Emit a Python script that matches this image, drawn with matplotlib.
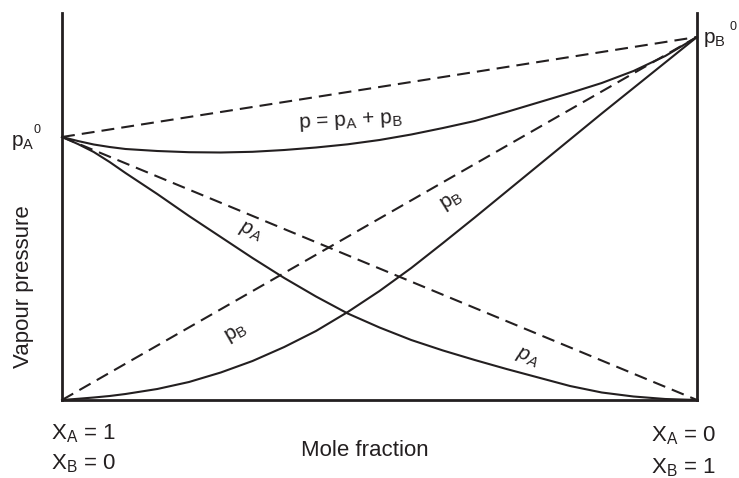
import matplotlib
matplotlib.use("Agg")
import matplotlib.pyplot as plt

plt.rcParams['font.family'] = ['Liberation Sans', 'DejaVu Sans']
plt.rcParams['mathtext.fontset'] = 'custom'
plt.rcParams['mathtext.rm'] = 'Liberation Sans'
plt.rcParams['mathtext.it'] = 'Liberation Sans:italic'

INK = '#231f20'

# pure vapour pressures (arbitrary units)
pA0 = 263
pB0 = 363

# mole fraction of B (0 at the left axis, 1 at the right axis)
x_frac = [0, 0.025, 0.05, 0.075, 0.10, 0.15, 0.20, 0.25, 0.30, 0.35, 0.40,
          0.45, 0.50, 0.55, 0.60, 0.65, 0.70, 0.75, 0.80, 0.85, 0.90, 0.95, 1.0]

# total pressure (solid, top)
p_total = [263, 259, 255.5, 253, 251, 249, 247.8, 247.5, 248.2, 250, 252.5,
           255.7, 260, 265.5, 272, 279, 288, 297.5, 307, 317, 329, 344, 363]

# partial pressure of B (solid)
p_B = [0, 1.2, 2.5, 4, 6, 11, 18, 27.5, 39, 53, 69,
       88, 109, 132, 157, 182.5, 208.5, 234.5, 260.5, 286.5, 312, 337.5, 363]

# partial pressure of A (solid)
p_A = [263, 256, 248, 238, 227, 206, 184, 163, 142, 122, 103.5,
       86.5, 72.5, 60, 49.5, 40, 31, 22.5, 14, 7.5, 3.5, 1, 0]

fig = plt.figure(figsize=(7.39, 4.78), dpi=100)
ax = fig.add_axes([62 / 739, 78 / 478, 635 / 739, 387 / 478])
ax.set_xlim(0, 1)
ax.set_ylim(0, 387)

dash = (0, (6.2, 3.4))
lw = 1.5

# ideal (Raoult) lines
ax.plot([0, 1], [pA0, pB0], color=INK, lw=lw, ls=dash, clip_on=False)
ax.plot([0, 1], [pA0, 0], color=INK, lw=lw, ls=dash, clip_on=False)
ax.plot([0, 1], [0, pB0], color=INK, lw=lw, ls=dash, clip_on=False)

# real curves
ax.plot(x_frac, p_total, color=INK, lw=lw, clip_on=False)
ax.plot(x_frac, p_B, color=INK, lw=lw, clip_on=False)
ax.plot(x_frac, p_A, color=INK, lw=lw, clip_on=False)

for s in ['left', 'right', 'bottom']:
    ax.spines[s].set_linewidth(2.0)
    ax.spines[s].set_color(INK)
ax.spines['top'].set_visible(False)
ax.set_xticks([])
ax.set_yticks([])

# curve labels
ax.text(0.454, 279, r'p = p$_{\mathrm{A}}$ + p$_{\mathrm{B}}$', fontsize=15,
        color=INK, ha='center', va='center', rotation=3)
ax.text(0.613, 199, r'p$_{\mathrm{B}}$', fontsize=15, color=INK,
        ha='center', va='center', rotation=32)
ax.text(0.274, 67, r'p$_{\mathrm{B}}$', fontsize=15, color=INK,
        ha='center', va='center', rotation=30)
ax.text(0.296, 168, r'$p_A$', fontsize=15, color=INK,
        ha='center', va='center', rotation=-22)
ax.text(0.732, 42, r'$p_A$', fontsize=15, color=INK,
        ha='center', va='center', rotation=-22)

W, H = 739, 478
def ftext(px, py, s, **kw):
    fig.text(px / W, 1 - py / H, s, color=INK, **kw)

# pure component pressures
ftext(11, 146, r'p$_{\mathrm{A}}$', fontsize=15, va='baseline')
ftext(34, 133, '0', fontsize=9, va='baseline')
ftext(703, 43, r'p$_{\mathrm{B}}$', fontsize=15, va='baseline')
ftext(730, 30, '0', fontsize=9, va='baseline')

# axis texts
ftext(24, 287, 'Vapour pressure', fontsize=16, rotation=90,
      ha='center', va='center')
ftext(365, 456, 'Mole fraction', fontsize=16, ha='center', va='baseline')

ftext(51, 439, r'X$_{\mathrm{A}}$ = 1', fontsize=16, va='baseline')
ftext(51, 469, r'X$_{\mathrm{B}}$ = 0', fontsize=16, va='baseline')
ftext(651, 441, r'X$_{\mathrm{A}}$ = 0', fontsize=16, va='baseline')
ftext(651, 473, r'X$_{\mathrm{B}}$ = 1', fontsize=16, va='baseline')

fig.savefig('out.png', dpi=100)
